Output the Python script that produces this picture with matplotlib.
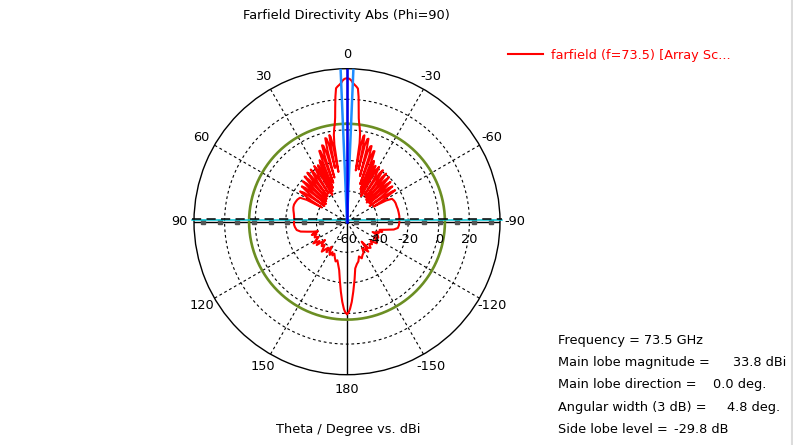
import numpy as np
import matplotlib
matplotlib.use('Agg')
import matplotlib.pyplot as plt
from matplotlib.lines import Line2D
from matplotlib.transforms import offset_copy

plt.rcParams['font.family'] = 'DejaVu Sans'
plt.rcParams['font.size'] = 9.3

# farfield cut, Phi=90 -- theta in degrees, directivity in dBi
# left half of the plot (theta > 0)
theta_left = [0, 1, 1.8, 2.4, 3.2, 4.0, 4.7, 5.3, 5.9, 6.5, 7.1, 7.8, 8.6, 9.3, 9.8,
              10.3, 10.9, 11.5, 12.1, 12.6, 13.2, 13.9, 14.6, 15.3, 15.9, 16.5, 17.3,
              18.1, 18.8, 19.4, 20.0, 20.7, 21.4, 22.1, 22.7, 23.3, 24.0, 24.7, 25.4,
              26.2, 27.2, 28.0, 28.7, 29.5, 30.5, 31.5, 32.3, 33.0, 33.8, 34.8, 35.8,
              36.6, 37.3, 38.1, 39.0, 39.9, 40.7, 41.4, 42.2, 43.2, 44.2, 45.0, 45.7,
              46.5, 47.5, 48.5, 49.3, 50.0, 50.9, 52.0, 53.2, 54.2, 55.0, 56.0, 57.2,
              58.5, 59.5, 60.5, 61.5, 63, 66, 69, 72, 75, 78, 81, 84, 87, 90, 93, 96,
              99.4, 102, 104, 106.5, 108.2, 109.5, 110.6, 112, 114, 116, 118, 120,
              122.8, 125, 127.6, 129.8, 132, 134, 136, 139.9, 142, 144, 146, 148.5,
              150.5, 152.5, 154.5, 156.5, 158.5, 161.8, 164, 166, 168.6, 170.8, 173.3,
              175, 176.6, 178, 179, 180]
dbi_left = [33.8, 33.4, 32.3, 30.8, 29.6, 28.6, 27.5, 22, 15, 8.5, 4.5, 1.5, -2.5, -9, -27,
            -11, -3.5, -2.2, -10, -24, -8, -4.0, -3.6, -12, -30, -14, -8,
            -7.5, -16, -33, -16, -10.5, -10.3, -19, -36, -20, -16, -18, -38,
            -22, -18.5, -25, -40, -21, -17.8, -24, -27, -38, -22, -18.5, -25,
            -28, -39, -22, -18.8, -25.5, -29, -40, -23, -19.5, -26, -30, -41,
            -24, -21, -27, -31, -42, -25, -22.5, -28, -32, -42, -26, -23.5,
            -29, -33, -41, -30, -25.5, -24.5, -24, -23.6, -23.7, -24.2, -24.8, -25.2, -25.4, -25.4, -25.3, -25.8,
            -26.7, -29, -33, -37, -40, -37, -35.4, -38.5, -37, -36.5, -39, -37.5,
            -33.8, -38, -35, -41.3, -38, -37, -39, -34.4, -37, -39, -36, -40.8,
            -37, -35.5, -38, -36, -37.5, -34.8, -33, -34, -31, -28, -20.5,
            -14, -7.6, -2.8, -0.5, 0.3]

# right half of the plot (theta < 0), listed by |theta|
theta_right = [0, 1, 1.8, 2.4, 3.2, 4.0, 4.7, 5.3, 5.9, 6.5, 7.1, 7.7, 8.4, 9.1, 9.7,
               10.2, 10.8, 11.4, 12.0, 12.5, 13.1, 13.8, 14.5, 15.2, 15.8, 16.4, 17.2,
               18.0, 18.7, 19.3, 19.9, 20.6, 21.3, 22.0, 22.6, 23.2, 23.9, 24.6, 25.3,
               26.1, 27.1, 27.9, 28.6, 29.4, 30.4, 31.7, 32.4, 33.1, 33.9, 34.9, 35.9,
               36.7, 37.4, 38.2, 39.1, 40.0, 40.8, 41.5, 42.3, 43.3, 44.3, 45.1, 45.8,
               46.6, 47.6, 48.6, 49.4, 50.1, 51.0, 52.1, 53.3, 54.3, 55.1, 56.1, 56.8,
               58.0, 59.2, 60.4, 61.5, 63, 66, 69, 73.2, 76, 80, 84, 88, 91, 94, 97,
               99.5, 102, 104, 106, 108, 110, 112, 114, 117, 120, 123, 126, 129, 132,
               135, 138, 141, 143.7, 144.6, 147, 150, 152, 155, 158, 161, 164, 167,
               170, 172.5, 174.9, 176.6, 178, 179, 180]
dbi_right = [33.8, 33.4, 32.3, 30.8, 29.6, 28.5, 27.3, 22, 14.5, 8, 4.5, 2, -1.5, -8, -26,
             -10, -3.2, -2.4, -9, -25, -9, -4.5, -4.0, -11, -29, -13, -8.5,
             -8, -15, -34, -15, -10.8, -10.5, -18, -37, -19, -16.5, -18.5, -39,
             -21, -19, -25, -41, -21, -18.5, -24.5, -28, -39, -22, -19, -25.5,
             -29, -40, -23, -19.5, -26, -30, -41, -24, -20, -26.5, -31, -42,
             -24.5, -21.5, -27.5, -32, -41, -25, -22.4, -28, -33, -42, -25, -22.4,
             -29, -33, -40, -31, -27, -26.3, -26, -26, -25.8, -25.7, -25.6, -25.8, -25.8, -26, -26.5,
             -29, -34.6, -38, -36, -39, -38, -42, -38, -37, -39.5, -37, -36, -40, -38,
             -39.5, -37, -38, -43.8, -36, -38, -40, -37, -36, -34.2, -36, -33, -31.5,
             -29, -22, -14, -7.5, -3, -0.6, 0.3]

main_lobe_dir = 0.0       # deg
beam_width = 4.8          # deg (3 dB)
side_lobe_thr = 4.0       # dBi (33.8 - 29.8)
r_min, r_max = -60, 40
r_rings = [-40, -20, 0, 20]
r_labels = [-60, -40, -20, 0, 20]
axis_ticks = [-54, -43, -32, -21, -10, 1, 12, 23, 34]
theta_ticks = [0, 30, 60, 90, 120, 150, 180, 210, 240, 270, 300, 330]
theta_ticklabels = ['0', '30', '60', '90', '120', '150', '180',
                    '-150', '-120', '-90', '-60', '-30']

info_labels = ['Frequency = 73.5 GHz', 'Main lobe magnitude =', 'Main lobe direction =',
               'Angular width (3 dB) =', 'Side lobe level =']
info_values = ['', '33.8 dBi', '0.0 deg.', '4.8 deg.', '-29.8 dB']

W, H = 793, 445
fig = plt.figure(figsize=(W / 100, H / 100), dpi=100)
cx, cy, R = 347, 221.7, 153
ax = fig.add_axes([(cx - R) / W, (H - cy - R) / H, 2 * R / W, 2 * R / H], projection='polar')
ax.set_theta_zero_location('N')
ax.set_theta_direction(1)
ax.set_ylim(r_min, r_max)
ax.grid(False)
ax.set_xticks([])
ax.set_yticks([])
ax.spines['polar'].set_linewidth(1.0)
ax.spines['polar'].set_color('black')

# grid
circ = np.linspace(0, 2 * np.pi, 361)
for rr in r_rings:
    ax.plot(circ, np.full_like(circ, rr), color='black', lw=0.8, ls=(0, (2.5, 2.5)), zorder=1)
for a in theta_ticks:
    t = np.deg2rad(a)
    if a % 90 == 0:
        ax.plot([t, t], [r_min, r_max], color='black', lw=1.0, zorder=1)
    else:
        ax.plot([t, t], [r_min, r_max], color='black', lw=0.8, ls=(0, (2.5, 2.5)), zorder=1)

# tick marks on the horizontal axis
for a in (90, 270):
    ax.plot(np.full(len(axis_ticks), np.deg2rad(a)), axis_ticks, ls='none', marker='s',
            ms=2.2, color='#555555', zorder=2, clip_on=False)

# side lobe level circle
ax.plot(circ, np.full_like(circ, side_lobe_thr), color='#6b8e23', lw=1.9, zorder=3)

# pattern
th = np.concatenate([-np.array(theta_right[::-1]), np.array(theta_left[1:])])
db = np.concatenate([np.array(dbi_right[::-1]), np.array(dbi_left[1:])])
ax.plot(np.deg2rad(th), db, color='#ff0000', lw=1.5, zorder=4,
        label='farfield (f=73.5) [Array Sc...')

# horizontal chords slightly above the axis (cyan and dashed)
span = (r_max - r_min) + 1.5
for h, col, ls, lw in [(0.85, '#00c8d8', '-', 1.1), (1.8, 'black', (0, (6, 3.5)), 1.1)]:
    ang = np.rad2deg(np.arctan2(h, span))
    dist = np.hypot(h, span)
    ax.plot(np.deg2rad([90 - ang, 270 + ang]), [r_min + dist, r_min + dist],
            color=col, ls=ls, lw=lw, zorder=5, clip_on=False)

# main lobe direction and 3 dB beam width
for d, col in [(main_lobe_dir - beam_width / 2, '#1e8cff'), (main_lobe_dir + beam_width / 2, '#1e8cff'),
               (main_lobe_dir, '#0000ee')]:
    ax.plot(np.deg2rad([d, d]), [r_min, r_max], color=col, lw=1.8, zorder=6)

# angle labels
for a, lab in zip(theta_ticks, theta_ticklabels):
    ax.text(np.deg2rad(a), 49.6, lab, ha='center', va='center', fontsize=9.3)

# radial labels
trans = offset_copy(ax.transData, fig=fig, x=0, y=-18, units='dots')
for rr in r_labels:
    ax.text(np.deg2rad(270), rr, str(rr), transform=trans, ha='center', va='center',
            fontsize=9.3, zorder=7)

fig.text(346.5 / W, 1 - 15 / H, 'Farfield Directivity Abs (Phi=90)', ha='center', va='center')
fig.text(348 / W, 1 - 429 / H, 'Theta / Degree vs. dBi', ha='center', va='center')

fig.legend(loc='center left', bbox_to_anchor=(508 / W, 1 - 55 / H), frameon=False,
           borderpad=0, borderaxespad=0, handlelength=2.7, handletextpad=0.6,
           labelcolor='linecolor', fontsize=9.3)

val_x = [None, 732.7, 713.3, 726.7, 674]
for i, (lab, val) in enumerate(zip(info_labels, info_values)):
    y = 340.5 + 22.2 * i
    fig.text(558 / W, 1 - y / H, lab, ha='left', va='center')
    if val:
        fig.text(val_x[i] / W, 1 - y / H, val, ha='left', va='center')

fig.add_artist(Line2D([791.5 / W, 791.5 / W], [0, 1], color='#dcdcdc', lw=1.5,
                      transform=fig.transFigure))

fig.savefig('out.png', dpi=100)
